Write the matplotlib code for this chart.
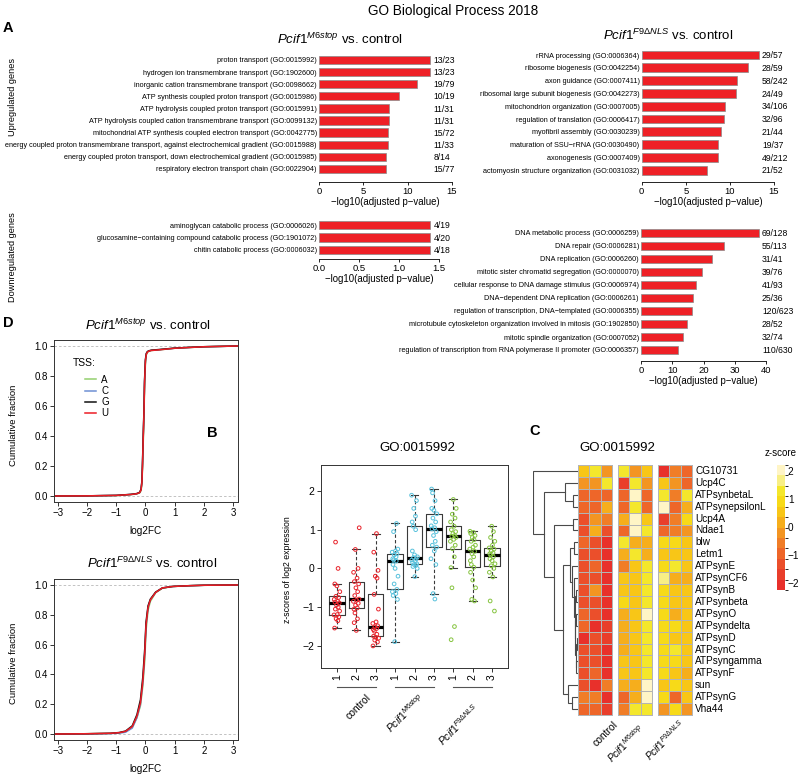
import numpy as np
import matplotlib
matplotlib.use("Agg")
import matplotlib.pyplot as plt
from matplotlib.colors import ListedColormap, BoundaryNorm
from matplotlib.cm import ScalarMappable

plt.rcParams['font.family'] = 'Liberation Sans'
plt.rcParams['mathtext.fontset'] = 'custom'
plt.rcParams['mathtext.rm'] = 'Liberation Sans'
plt.rcParams['mathtext.it'] = 'Liberation Sans:italic'
plt.rcParams['axes.linewidth'] = 0.7
plt.rcParams['xtick.major.width'] = 0.7
plt.rcParams['ytick.major.width'] = 0.7

MINUS = '\u2212'
M6 = r'$\mathit{Pcif1}^{\mathit{M6stop}}$'
F9 = r'$\mathit{Pcif1}^{\mathit{F9ΔNLS}}$'

# ---------------- panel A: GO Biological Process ----------------
m6_up_terms = [
    'proton transport (GO:0015992)',
    'hydrogen ion transmembrane transport (GO:1902600)',
    'inorganic cation transmembrane transport (GO:0098662)',
    'ATP synthesis coupled proton transport (GO:0015986)',
    'ATP hydrolysis coupled proton transport (GO:0015991)',
    'ATP hydrolysis coupled cation transmembrane transport (GO:0099132)',
    'mitochondrial ATP synthesis coupled electron transport (GO:0042775)',
    'energy coupled proton transmembrane transport, against electrochemical gradient (GO:0015988)',
    'energy coupled proton transport, down electrochemical gradient (GO:0015985)',
    'respiratory electron transport chain (GO:0022904)',
]
m6_up_logp = [12.5, 12.5, 11.05, 9.0, 7.93, 7.93, 7.74, 7.74, 7.55, 7.52]
m6_up_counts = ['13/23', '13/23', '19/79', '10/19', '11/31', '11/31', '15/72', '11/33', '8/14', '15/77']

f9_up_terms = [
    'rRNA processing (GO:0006364)',
    'ribosome biogenesis (GO:0042254)',
    'axon guidance (GO:0007411)',
    'ribosomal large subunit biogenesis (GO:0042273)',
    'mitochondrion organization (GO:0007005)',
    'regulation of translation (GO:0006417)',
    'myofibril assembly (GO:0030239)',
    'maturation of SSU' + MINUS + 'rRNA (GO:0030490)',
    'axonogenesis (GO:0007409)',
    'actomyosin structure organization (GO:0031032)',
]
f9_up_logp = [13.25, 12.0, 10.8, 10.65, 9.4, 9.3, 9.0, 8.7, 8.6, 7.45]
f9_up_counts = ['29/57', '28/59', '58/242', '24/49', '34/106', '32/96', '21/44', '19/37', '49/212', '21/52']

m6_down_terms = [
    'aminoglycan catabolic process (GO:0006026)',
    'glucosamine' + MINUS + 'containing compound catabolic process (GO:1901072)',
    'chitin catabolic process (GO:0006032)',
]
m6_down_logp = [1.39, 1.39, 1.39]
m6_down_counts = ['4/19', '4/20', '4/18']

f9_down_terms = [
    'DNA metabolic process (GO:0006259)',
    'DNA repair (GO:0006281)',
    'DNA replication (GO:0006260)',
    'mitotic sister chromatid segregation (GO:0000070)',
    'cellular response to DNA damage stimulus (GO:0006974)',
    'DNA' + MINUS + 'dependent DNA replication (GO:0006261)',
    'regulation of transcription, DNA' + MINUS + 'templated (GO:0006355)',
    'microtubule cytoskeleton organization involved in mitosis (GO:1902850)',
    'mitotic spindle organization (GO:0007052)',
    'regulation of transcription from RNA polymerase II promoter (GO:0006357)',
]
f9_down_logp = [37.6, 26.6, 22.6, 19.6, 17.6, 16.5, 16.4, 14.6, 13.3, 11.9]
f9_down_counts = ['69/128', '55/113', '31/41', '39/76', '41/93', '25/36', '120/623', '28/52', '32/74', '110/630']

# ---------------- panel D: cumulative fraction of log2FC by TSS ----------------
TSS = ['A', 'C', 'G', 'U']
TSS_COLORS = {'A': '#93cf6e', 'C': '#6d8fd3', 'G': '#111111', 'U': '#ec1c24'}

m6_cdf_x = [-3.13, -2.0, -1.0, -0.5, -0.3, -0.2, -0.15, -0.12, -0.1, -0.08, -0.05,
            -0.03, 0.0, 0.03, 0.07, 0.12, 0.2, 0.5, 1.0, 1.5, 2.0, 3.17]
m6_cdf = {
    'A': [0.0, 0.001, 0.003, 0.009, 0.014, 0.02, 0.035, 0.08, 0.18, 0.32, 0.52,
          0.72, 0.88, 0.94, 0.958, 0.965, 0.97, 0.975, 0.985, 0.99, 0.995, 1.0],
    'C': [0.0, 0.001, 0.004, 0.01, 0.015, 0.023, 0.042, 0.095, 0.21, 0.36, 0.56,
          0.76, 0.9, 0.948, 0.962, 0.967, 0.971, 0.976, 0.985, 0.99, 0.995, 1.0],
    'G': [0.0, 0.001, 0.004, 0.011, 0.016, 0.024, 0.045, 0.1, 0.22, 0.37, 0.57,
          0.77, 0.91, 0.95, 0.963, 0.968, 0.972, 0.977, 0.986, 0.991, 0.995, 1.0],
    'U': [0.0, 0.001, 0.004, 0.01, 0.015, 0.022, 0.04, 0.09, 0.2, 0.35, 0.55,
          0.75, 0.9, 0.945, 0.96, 0.966, 0.97, 0.975, 0.985, 0.99, 0.995, 1.0],
}

f9_cdf_x = [-3.13, -2.0, -1.2, -0.9, -0.68, -0.45, -0.29, -0.17, -0.09, -0.02, 0.02,
            0.09, 0.17, 0.35, 0.58, 0.94, 1.5, 2.0, 3.17]
f9_cdf = {
    'A': [0.0, 0.002, 0.004, 0.008, 0.016, 0.045, 0.11, 0.19, 0.32, 0.5, 0.69,
          0.83, 0.89, 0.948, 0.978, 0.99, 0.995, 0.998, 1.0],
    'C': [0.0, 0.001, 0.003, 0.006, 0.012, 0.04, 0.11, 0.2, 0.34, 0.54, 0.72,
          0.85, 0.9, 0.95, 0.98, 0.99, 0.995, 0.998, 1.0],
    'G': [0.0, 0.002, 0.005, 0.01, 0.02, 0.055, 0.13, 0.23, 0.38, 0.58, 0.75,
          0.86, 0.905, 0.952, 0.98, 0.99, 0.995, 0.998, 1.0],
    'U': [0.0, 0.002, 0.005, 0.009, 0.018, 0.05, 0.12, 0.21, 0.35, 0.55, 0.73,
          0.85, 0.9, 0.95, 0.98, 0.99, 0.995, 0.998, 1.0],
}

# ---------------- panel B: z-scores of GO:0015992 genes per sample ----------------
sample_labels = ['1', '2', '3'] * 3
z_control_1 = [-1.54, -1.35, -1.3, -1.25, -1.2, -1.19, -1.1, -1.05, -1.0, -0.95, -0.89,
               -0.87, -0.85, -0.8, -0.75, -0.72, -0.6, -0.45, -0.4, 0.0, 0.68]
z_control_2 = [-1.6, -1.4, -1.3, -1.15, -1.05, -1.02, -0.95, -0.9, -0.85, -0.82, -0.79,
               -0.7, -0.6, -0.5, -0.4, -0.34, -0.25, -0.1, 0.0, 0.49, 1.05]
z_control_3 = [-2.0, -1.9, -1.85, -1.8, -1.78, -1.75, -1.7, -1.62, -1.58, -1.55, -1.51,
               -1.48, -1.42, -1.38, -1.05, -0.67, -0.25, -0.2, -0.05, 0.42, 0.9]
z_m6_1 = [-1.89, -0.8, -0.7, -0.65, -0.6, -0.54, -0.4, -0.2, 0.0, 0.1, 0.19,
          0.22, 0.25, 0.3, 0.35, 0.38, 0.42, 0.45, 0.5, 0.95, 1.16]
z_m6_2 = [-0.21, 0.0, 0.05, 0.08, 0.1, 0.12, 0.15, 0.2, 0.22, 0.25, 0.28,
          0.3, 0.35, 0.45, 1.0, 1.09, 1.2, 1.35, 1.55, 1.75, 1.89]
z_m6_3 = [-0.79, -0.65, 0.1, 0.25, 0.45, 0.55, 0.6, 0.7, 0.85, 0.95, 1.02,
          1.05, 1.1, 1.2, 1.3, 1.41, 1.5, 1.55, 1.75, 1.95, 2.05]
z_f9_1 = [-1.84, -1.5, -0.5, 0.02, 0.3, 0.51, 0.6, 0.7, 0.75, 0.8, 0.83,
          0.85, 0.9, 0.95, 1.0, 1.09, 1.2, 1.3, 1.4, 1.55, 1.78]
z_f9_2 = [-0.84, -0.8, -0.5, -0.3, -0.1, 0.03, 0.1, 0.2, 0.3, 0.38, 0.44,
          0.5, 0.55, 0.6, 0.7, 0.74, 0.8, 0.85, 0.9, 0.93, 0.96]
z_f9_3 = [-1.1, -0.84, -0.22, -0.1, 0.0, 0.07, 0.12, 0.2, 0.25, 0.3, 0.34,
          0.38, 0.4, 0.45, 0.5, 0.53, 0.6, 0.7, 0.8, 0.95, 1.09]
box_data = [z_control_1, z_control_2, z_control_3, z_m6_1, z_m6_2, z_m6_3, z_f9_1, z_f9_2, z_f9_3]
GROUP_COLORS = ['#e8232b', '#58c1dc', '#86c440']
JITTER = [-0.12, 0.05, -0.04, 0.1, -0.15, 0.02, 0.14, -0.08, 0.07, -0.02, 0.12,
          -0.1, 0.04, -0.14, 0.09, -0.05, 0.15, 0.0, -0.11, 0.06, -0.07]

# ---------------- panel C: heatmap ----------------
genes = ['CG10731', 'Ucp4C', 'ATPsynbetaL', 'ATPsynepsilonL', 'Ucp4A', 'Ndae1', 'blw',
         'Letm1', 'ATPsynE', 'ATPsynCF6', 'ATPsynB', 'ATPsynbeta', 'ATPsynO', 'ATPsyndelta',
         'ATPsynD', 'ATPsynC', 'ATPsyngamma', 'ATPsynF', 'sun', 'ATPsynG', 'Vha44']
heat_control = [
    [0.6, 1.3, -0.2], [-0.3, -0.3, 1.2], [-0.8, -0.9, -0.8], [-0.8, -0.9, 0.2],
    [-1.3, -0.3, -0.4], [-1.3, 0.2, -1.2], [-0.9, -1.3, -2.0], [-1.3, -1.4, -2.0],
    [-1.3, -1.0, -2.0], [-1.4, -1.5, -2.0], [-1.4, -0.3, -2.0], [-1.4, -1.5, -2.0],
    [-1.0, -1.4, -2.0], [-1.0, -2.0, -1.8], [-2.1, -1.5, -1.8], [-1.5, -1.5, -2.0],
    [-1.4, -1.5, -2.0], [-1.4, -1.1, -2.0], [-1.4, -2.0, -0.4], [-0.4, -0.4, -1.9],
    [-1.0, -0.8, -1.6],
]
heat_m6 = [
    [1.3, -0.2, 0.6], [-1.6, 1.3, -0.2], [-0.8, 2.0, -0.9], [-0.8, 1.3, -0.9],
    [0.2, 2.0, 0.7], [-0.8, 1.9, 1.2], [1.2, 0.3, 0.3], [0.3, 1.2, 0.3],
    [-0.7, 0.4, 1.1], [0.4, 0.5, 1.4], [0.4, 0.4, 1.4], [1.0, 0.4, 1.3],
    [0.3, 0.4, 1.9], [0.3, 0.5, 1.3], [0.0, 0.4, 1.2], [0.3, 0.5, 1.2],
    [0.4, 0.6, 1.2], [0.4, 0.5, 1.2], [0.3, 0.0, 2.0], [-0.9, 0.2, 2.0],
    [-0.4, 1.4, 1.3],
]
heat_f9 = [
    [-1.9, -0.5, -1.1], [0.7, -0.2, -1.0], [1.1, -0.7, 1.1], [2.0, -0.8, 0.0],
    [-1.8, -0.4, 0.8], [-0.9, -0.4, -0.2], [1.0, 1.0, 0.6], [0.7, 0.7, 0.7],
    [1.0, 1.1, 0.7], [1.5, 0.0, 0.3], [1.0, 0.4, 0.4], [1.0, 0.4, 0.5],
    [1.0, 0.3, 0.4], [0.9, 1.0, 0.5], [1.0, 0.6, 0.6], [1.0, 1.1, 0.5],
    [1.0, 1.0, 0.5], [1.0, 0.6, 0.1], [0.5, 1.0, 0.4], [0.9, -0.8, 0.5],
    [-0.3, 0.9, -0.1],
]
# row dendrogram: (left, right, merge height)
row_tree = ('CG10731',
            (('Ucp4C', ('ATPsynbetaL', 'ATPsynepsilonL', 1.05), 2.95),
             (('Ucp4A', 'Ndae1', 1.2),
              ((('blw', 'Letm1', 1.0),
                ('ATPsynE',
                 ('ATPsynCF6',
                  (('ATPsynB', 'ATPsynbeta', 0.45),
                   (('ATPsynO', 'ATPsyndelta', 0.4),
                    (('ATPsynD', 'ATPsynC', 0.3), ('ATPsyngamma', 'ATPsynF', 0.35), 0.5),
                    0.6), 0.75), 0.95), 1.3), 1.7),
               ('sun', ('ATPsynG', 'Vha44', 1.4), 2.2), 3.3), 5.4), 7.5), 9.9)
heat_colors = ['#e8302b', '#e93e2b', '#eb4f2b', '#ee6629', '#f07d27', '#f39522',
               '#f6ae1c', '#f8c617', '#f7da18', '#f4e72c', '#f8ef85', '#fff5c6']
heat_bounds = np.linspace(-2.25, 2.2, len(heat_colors) + 1)

BAR_RED = '#ee2026'
W, H = 800, 778
fig = plt.figure(figsize=(8, 7.78), dpi=100)


def add_ax(left, top, right, bottom):
    return fig.add_axes([left / W, 1 - bottom / H, (right - left) / W, (bottom - top) / H])


def ftext(x, y, s, **kw):
    return fig.text(x / W, 1 - y / H, s, **kw)


def go_panel(left, right, first, step, bottom, terms, vals, counts, ticks, tlabels):
    ax = add_ax(left, first - 8, right, bottom)
    pos = np.arange(len(terms))
    ax.barh(pos, vals, height=0.68, color=BAR_RED, edgecolor='#8a8a8a', linewidth=0.5)
    ax.set_xlim(ticks[0], ticks[-1])
    ax.set_ylim((bottom - first) / step, -8 / step)
    ax.set_yticks(pos, terms, fontsize=5.2)
    ax.tick_params(axis='y', length=0, pad=1.5)
    ax.set_xticks(ticks, tlabels, fontsize=6.8)
    ax.tick_params(axis='x', length=2.5, width=0.6, pad=1)
    for s in ['top', 'right', 'left']:
        ax.spines[s].set_visible(False)
    ax.spines['bottom'].set_linewidth(0.6)
    ax.set_xlabel(MINUS + 'log10(adjusted p' + MINUS + 'value)', fontsize=6.9, labelpad=1)
    for p, c in zip(pos, counts):
        ax.annotate(c, xy=(max(vals), p), xytext=(2.5, -0.5), textcoords='offset points',
                    va='center', ha='left', fontsize=6.2, annotation_clip=False)
    return ax


ftext(453, 15, 'GO Biological Process 2018', fontsize=9.8, ha='center', va='baseline')
ftext(3, 32, 'A', fontsize=10.5, fontweight='bold', va='baseline')
ftext(340, 44, M6 + ' vs. control', fontsize=9.5, ha='center', va='baseline')
ftext(668, 40, F9 + ' vs. control', fontsize=9.5, ha='center', va='baseline')
ftext(13, 97, 'Upregulated genes', fontsize=6.6, rotation=90, ha='center', va='center')
ftext(13, 257, 'Downregulated genes', fontsize=6.6, rotation=90, ha='center', va='center')

go_panel(319, 452, 60, 12.1, 182, m6_up_terms, m6_up_logp, m6_up_counts,
         [0, 5, 10, 15], ['0', '5', '10', '15'])
go_panel(641.7, 774, 55, 12.8, 182, f9_up_terms, f9_up_logp, f9_up_counts,
         [0, 5, 10, 15], ['0', '5', '10', '15'])
go_panel(319, 439, 225, 12.5, 259, m6_down_terms, m6_down_logp, m6_down_counts,
         [0, 0.5, 1.0, 1.5], ['0.0', '0.5', '1.0', '1.5'])
go_panel(641, 766, 233, 13, 361, f9_down_terms, f9_down_logp, f9_down_counts,
         [0, 10, 20, 30, 40], ['0', '10', '20', '30', '40'])


# ---------------- panel D ----------------
def cdf_panel(top, bottom, x, curves):
    ax = add_ax(54, top, 238, bottom)
    for v in (0, 1):
        ax.axhline(v, color='#b8b8b8', lw=0.6, ls=(0, (3, 2.5)), zorder=1)
    for key in TSS:
        ax.plot(x, curves[key], color=TSS_COLORS[key], lw=1.1, label=key, zorder=2)
    ax.set_xlim(-3.13, 3.17)
    ax.set_ylim(-0.04, 1.04)
    ax.set_xticks(range(-3, 4))
    ax.set_yticks([0, 0.2, 0.4, 0.6, 0.8, 1.0], ['0.0', '0.2', '0.4', '0.6', '0.8', '1.0'])
    ax.tick_params(labelsize=7, length=3, pad=1.5, color='#333333')
    for s in ax.spines.values():
        s.set_color('#333333')
    ftext(14, (top + bottom) / 2 + 4, 'Cumulative fraction', fontsize=6.8, rotation=90,
          ha='center', va='center')
    ftext(146, bottom + 29, 'log2FC', fontsize=7.2, ha='center', va='center')
    return ax


ftext(3, 327, 'D', fontsize=10.5, fontweight='bold', va='baseline')
ftext(148, 330, M6 + ' vs. control', fontsize=9.5, ha='center', va='baseline')
axd1 = cdf_panel(340, 502, m6_cdf_x, m6_cdf)
ftext(152, 568, F9 + ' vs. control', fontsize=9.5, ha='center', va='baseline')
cdf_panel(579, 740, f9_cdf_x, f9_cdf)
axd1.legend(loc='upper left', bbox_to_anchor=(0.14, 0.815), frameon=False, fontsize=7,
            handlelength=1.2, handletextpad=0.5, labelspacing=0.12, borderpad=0)
axd1.text(0.1, 0.858, 'TSS:', transform=axd1.transAxes, fontsize=7.5, va='center')

# ---------------- panel B ----------------
ftext(207, 437, 'B', fontsize=10.5, fontweight='bold', va='baseline')
ftext(417, 451, 'GO:0015992', fontsize=9.5, ha='center', va='baseline')
axb = add_ax(321, 465, 508, 668)
pos = np.arange(1, len(box_data) + 1)
line_kw = dict(color='#3a3a3a', lw=0.8)
axb.boxplot(box_data, positions=pos, widths=0.8, whis=1.5, showfliers=False,
            medianprops=dict(color='black', lw=2.3, solid_capstyle='butt'),
            boxprops=line_kw, capprops=line_kw, capwidths=0.4,
            whiskerprops=dict(color='#3a3a3a', lw=0.8, ls=(0, (3, 2))))
for i, vals in enumerate(box_data):
    jit = np.roll(JITTER, 4 * i)[:len(vals)]
    axb.scatter(pos[i] + jit, vals, s=7, facecolors='none', edgecolors=GROUP_COLORS[i // 3],
                linewidths=0.7, zorder=3)
axb.set_xlim(0.18, 9.82)
axb.set_ylim(-2.57, 2.67)
axb.set_yticks([-2, -1, 0, 1, 2])
axb.set_xticks(pos, sample_labels, rotation=90)
axb.tick_params(labelsize=7.5, length=3, pad=1.5, color='#333333')
for s in axb.spines.values():
    s.set_color('#333333')
ftext(288, 570, 'z-scores of log2 expression', fontsize=6.3, rotation=90, ha='center', va='center')
tr = axb.get_xaxis_transform()
for g in range(3):
    axb.plot([pos[3 * g], pos[3 * g + 2]], [-0.094, -0.094], transform=tr, color='#555555',
             lw=0.8, clip_on=False)
ftext(366, 692, 'control', fontsize=7.5, rotation=45, rotation_mode='anchor', ha='right', va='top')
ftext(418, 691, M6, fontsize=7.5, rotation=45, rotation_mode='anchor', ha='right', va='top')
ftext(472, 701, F9, fontsize=7.5, rotation=45, rotation_mode='anchor', ha='right', va='top')

# ---------------- panel C ----------------
ftext(529, 435, 'C', fontsize=10.5, fontweight='bold', va='baseline')
ftext(617, 451, 'GO:0015992', fontsize=9.5, ha='center', va='baseline')
cmap = ListedColormap(heat_colors)
norm = BoundaryNorm(heat_bounds, cmap.N)
for (l, r), block in zip([(578, 612), (618, 652), (658, 692)], [heat_control, heat_m6, heat_f9]):
    axh = add_ax(l, 465, r, 715)
    mesh = axh.pcolormesh(np.array(block), cmap=cmap, norm=norm, edgecolors='#b4b4b4',
                          linewidth=0.6)
    mesh.set_clip_on(False)
    axh.set_xlim(0, 3)
    axh.set_ylim(len(genes), 0)
    axh.axis('off')
for i, g in enumerate(genes):
    ftext(695, 465 + (i + 0.5) * 250 / len(genes), g, fontsize=7.2, va='center', ha='left')

axdend = add_ax(533, 465, 578, 715)
leaf_row = {g: i for i, g in enumerate(genes)}


def draw_node(node):
    if isinstance(node, str):
        return leaf_row[node], 0.0
    left, right, h = node
    yl, hl = draw_node(left)
    yr, hr = draw_node(right)
    axdend.plot([hl, h, h, hr], [yl, yl, yr, yr], color='#4a4a4a', lw=0.8,
                solid_joinstyle='miter')
    return (yl + yr) / 2, h


draw_node(row_tree)
axdend.set_xlim(10.0, 0)
axdend.set_ylim(len(genes) - 0.5, -0.5)
axdend.axis('off')

cax = add_ax(777, 465, 785, 590)
cb = fig.colorbar(ScalarMappable(norm=norm, cmap=cmap), cax=cax, ticks=[-2, -1, 0, 1, 2])
cb.outline.set_visible(False)
cax.tick_params(length=0, labelsize=7.2, pad=2)
ftext(781, 456, 'z-score', fontsize=7, ha='center', va='baseline')
ftext(613, 719, 'control', fontsize=7.5, rotation=45, rotation_mode='anchor', ha='right', va='top')
ftext(638, 722, M6, fontsize=7.2, rotation=45, rotation_mode='anchor', ha='right', va='top')
ftext(678, 717, F9, fontsize=7.2, rotation=45, rotation_mode='anchor', ha='right', va='top')

fig.savefig('out.png', dpi=100)
